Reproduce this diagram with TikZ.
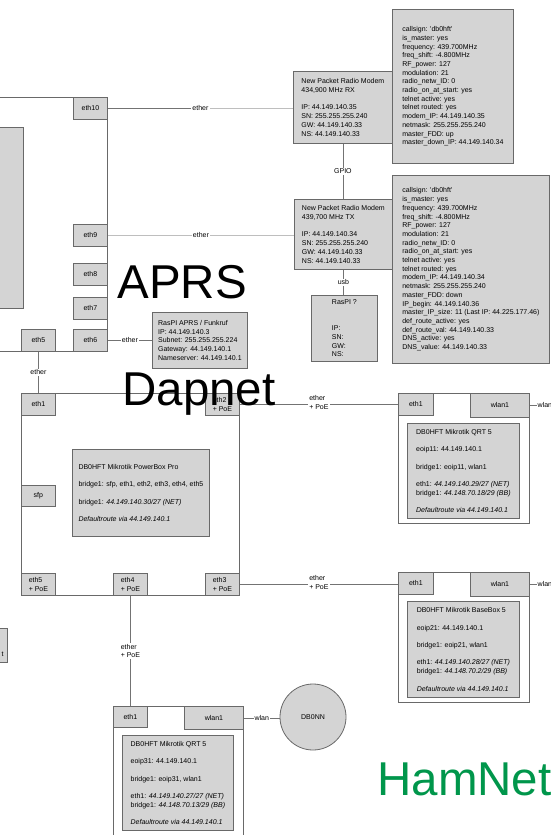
\documentclass[tikz,border=0pt]{standalone}
\usepackage{fontspec}
\setmainfont{Liberation Sans}

\definecolor{boxgray}{RGB}{212,212,212}
\definecolor{edgegray}{RGB}{105,105,105}
\definecolor{linkgray}{RGB}{115,115,115}
\definecolor{palegray}{RGB}{190,190,190}
\definecolor{hamgreen}{RGB}{0,150,75}

\begin{document}
\begin{tikzpicture}[x=1pt, y=-1pt, line width=0.8pt,
    every node/.style={font=\fontsize{7}{8.7}\selectfont, inner sep=0pt},
    frame/.style={draw=edgegray, fill=white, anchor=north west},
    port/.style={draw=edgegray, fill=boxgray, anchor=north west, align=left,
        minimum width=34pt, minimum height=22pt},
    infobox/.style={draw=edgegray, fill=boxgray, anchor=north west, align=left},
    link/.style={draw=linkgray},
    lightlink/.style={draw=palegray},
    lbl/.style={fill=white, inner sep=1pt, align=left},
    bigtext/.style={anchor=base west, font=\fontsize{47.5}{50}\selectfont}]

\useasboundingbox (0,0) rectangle (551,835);

% router on the left
\node[frame, minimum width=112pt, minimum height=254pt] (router) at (-5,97) {};
\node[infobox, minimum width=28pt, minimum height=181pt] (routerinfo) at (-5,127) {};
\node[port] (reth10) at (73,97) {eth10};
\node[port] (reth9) at (73,224) {eth9};
\node[port] (reth8) at (73,263) {eth8};
\node[port] (reth7) at (73,297) {eth7};
\node[port] (reth6) at (73,329) {eth6};
\node[port] (reth5) at (21,329) {eth5};

% packet radio modems
\node[infobox, minimum width=99pt, minimum height=72pt] (rxmodem) at (293,71)
    {New Packet Radio Modem\\434,900 MHz RX\\[8.7pt]IP: 44.149.140.35\\SN: 255.255.255.240\\GW: 44.149.140.33\\NS: 44.149.140.33};
\node[infobox, minimum width=121pt, minimum height=154pt] (rxcfg) at (392,9)
    {callsign: \textquotesingle db0hft\textquotesingle\\is\_master: yes\\frequency: 439.700MHz\\freq\_shift: -4.800MHz\\RF\_power: 127\\modulation: 21\\radio\_netw\_ID: 0\\radio\_on\_at\_start: yes\\telnet active: yes\\telnet routed: yes\\modem\_IP: 44.149.140.35\\netmask: 255.255.255.240\\master\_FDD: up\\master\_down\_IP: 44.149.140.34};
\node[infobox, minimum width=98pt, minimum height=70pt] (txmodem) at (294,199)
    {New Packet Radio Modem\\439,700 MHz TX\\[8.7pt]IP: 44.149.140.34\\SN: 255.255.255.240\\GW: 44.149.140.33\\NS: 44.149.140.33};
\node[infobox, minimum width=157pt, minimum height=188pt] (txcfg) at (392,175)
    {callsign: \textquotesingle db0hft\textquotesingle\\is\_master: yes\\frequency: 439.700MHz\\freq\_shift: -4.800MHz\\RF\_power: 127\\modulation: 21\\radio\_netw\_ID: 0\\radio\_on\_at\_start: yes\\telnet active: yes\\telnet routed: yes\\modem\_IP: 44.149.140.34\\netmask: 255.255.255.240\\master\_FDD: down\\IP\_begin: 44.149.140.36\\master\_IP\_size: 11 (Last IP: 44.225.177.46)\\def\_route\_active: yes\\def\_route\_val: 44.149.140.33\\DNS\_active: yes\\DNS\_value: 44.149.140.33};
\node[infobox, minimum width=66pt, minimum height=66pt] (raspiq) at (311,295)
    {RasPI ?\\[17pt]IP:\\SN:\\GW:\\NS:};
\node[infobox, minimum width=95pt, minimum height=56pt] (raspiaprs) at (152,312)
    {RasPI APRS / Funkruf\\IP: 44.149.140.3\\Subnet: 255.255.255.224\\Gateway: 44.149.140.1\\Nameserver: 44.149.140.1};

% PowerBox Pro
\node[frame, minimum width=218pt, minimum height=202pt] (pbox) at (21,393) {};
\node[port] (pbeth1) at (21,393) {eth1};
\node[port] (pbeth2) at (205,393) {eth2\\+ PoE};
\node[port, minimum height=21pt] (pbsfp) at (21,485) {sfp};
\node[port] (pbeth5) at (21,573) {eth5\\+ PoE};
\node[port] (pbeth4) at (113,573) {eth4\\+ PoE};
\node[port] (pbeth3) at (205,573) {eth3\\+ PoE};
\node[infobox, minimum width=137pt, minimum height=87pt] (pbinfo) at (72,449)
    {DB0HFT Mikrotik PowerBox Pro\\[8.7pt]bridge1: sfp, eth1, eth2, eth3, eth4, eth5\\[8.7pt]bridge1: \textit{44.149.140.30/27 (NET)}\\[8.7pt]\textit{Defaultroute via 44.149.140.1}};

% QRT 5 (eoip11)
\node[frame, minimum width=131pt, minimum height=130pt] (qrtone) at (398,393) {};
\node[port, minimum width=35pt] (q1eth1) at (398,393) {eth1};
\node[port, minimum width=59pt, minimum height=24pt] (q1wlan) at (470,393) {wlan1};
\node[infobox, minimum width=112pt, minimum height=95pt] (q1info) at (407,423)
    {DB0HFT Mikrotik QRT 5\\[8.7pt]eoip11: 44.149.140.1\\[8.7pt]bridge1: eoip11, wlan1\\[8.7pt]eth1: \textit{44.149.140.29/27 (NET)}\\bridge1: \textit{44.148.70.18/29 (BB)}\\[8.7pt]\textit{Defaultroute via 44.149.140.1}};

% BaseBox 5
\node[frame, minimum width=131pt, minimum height=130pt] (basebox) at (398,572) {};
\node[port, minimum width=35pt] (bbeth1) at (398,572) {eth1};
\node[port, minimum width=59pt, minimum height=24pt] (bbwlan) at (470,572) {wlan1};
\node[infobox, minimum width=112pt, minimum height=96pt] (bbinfo) at (407,601)
    {DB0HFT Mikrotik BaseBox 5\\[8.7pt]eoip21: 44.149.140.1\\[8.7pt]bridge1: eoip21, wlan1\\[8.7pt]eth1: \textit{44.149.140.28/27 (NET)}\\bridge1: \textit{44.148.70.2/29 (BB)}\\[8.7pt]\textit{Defaultroute via 44.149.140.1}};

% QRT 5 (eoip31)
\node[frame, minimum width=130pt, minimum height=135pt] (qrtthree) at (113,706) {};
\node[port, minimum height=21pt] (q3eth1) at (113,706) {eth1};
\node[port, minimum width=59pt, minimum height=23pt] (q3wlan) at (184,706) {wlan1};
\node[infobox, minimum width=111pt, minimum height=95pt] (q3info) at (122,735)
    {DB0HFT Mikrotik QRT 5\\[8.7pt]eoip31: 44.149.140.1\\[8.7pt]bridge1: eoip31, wlan1\\[8.7pt]eth1: \textit{44.149.140.27/27 (NET)}\\bridge1: \textit{44.148.70.13/29 (BB)}\\[8.7pt]\textit{Defaultroute via 44.149.140.1}};

\node[circle, draw=edgegray, fill=boxgray, minimum size=66pt] (db0nn) at (313,717) {DB0NN};

% cut off box at the left edge
\node[infobox, minimum width=27pt, minimum height=34pt] (leftcut) at (-20,628) {};
\node[anchor=base east] (leftcuttxt) at (4,656) {t};

% connections
\path (reth10.east) -- node[lbl] (l10) {ether} (reth10.east -| rxmodem.west);
\draw[link] (reth10.east) -- (l10.west);
\draw[lightlink] (l10.east) -- (reth10.east -| rxmodem.west);
\draw[lightlink] (reth9.east) -- node[lbl]{ether} (reth9.east -| txmodem.west);
\draw[link] (reth6.east) -- node[lbl]{ether} (reth6.east -| raspiaprs.west);
\draw[link] (reth5.south) -- node[lbl]{ether} (pbeth1.north);
\draw[link] (rxmodem.south) -- node[lbl]{GPIO} (rxmodem.south |- txmodem.north);
\draw[link] (txmodem.south) -- node[lbl]{usb} (txmodem.south |- raspiq.north);

\draw[link] (pbeth2.east) -- node[lbl, yshift=2pt]{ether\\+ PoE} (pbeth2.east -| q1eth1.west);
\draw[link] (pbeth3.east) -- node[lbl, yshift=2pt]{ether\\+ PoE} (pbeth3.east -| bbeth1.west);
\draw[link] (pbeth4.south) -- node[lbl]{ether\\+ PoE} (pbeth4.south |- q3eth1.north);

\coordinate (q1air) at (560,405);
\coordinate (bbair) at (560,584);
\draw[link] (q1wlan.east) -- node[lbl]{wlan} (q1wlan.east -| q1air);
\draw[link] (bbwlan.east) -- node[lbl]{wlan} (bbwlan.east -| bbair);
\draw[link] (q3wlan.east) -- node[lbl]{wlan} (q3wlan.east -| db0nn.west);

% big labels
\node[bigtext] (aprs) at (117,298) {APRS};
\node[bigtext] (dapnet) at (122,405) {Dapnet};
\node[bigtext, text=hamgreen] (hamnet) at (377,795) {HamNet};
\end{tikzpicture}
\end{document}
